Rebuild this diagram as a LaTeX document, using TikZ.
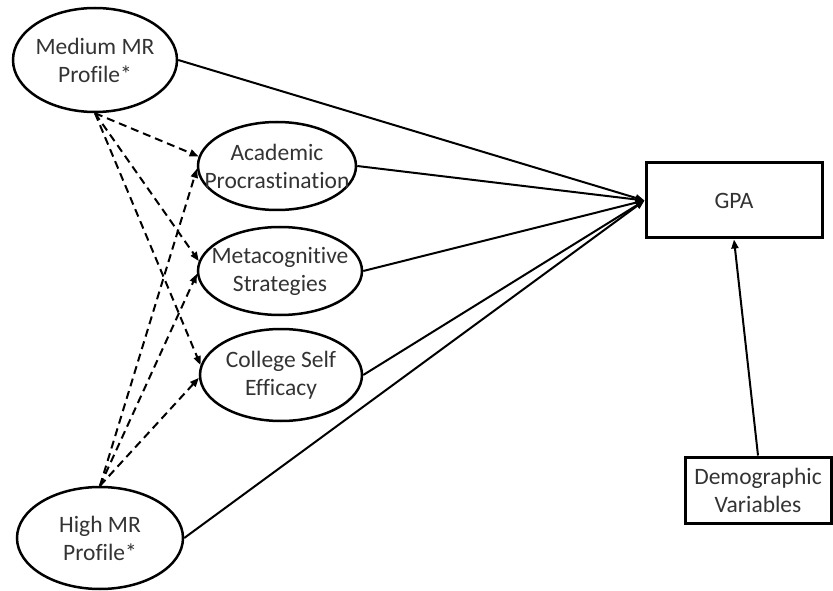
\documentclass[tikz,border=0pt]{standalone}
\usepackage{fontspec}
\setmainfont{Carlito}[Ligatures=NoCommon]
\usetikzlibrary{shapes.geometric,arrows.meta}

\begin{document}
\begin{tikzpicture}[>={Triangle[length=9pt,width=7pt]}, node distance=104pt]
  \tikzstyle{latent} = [ellipse, draw, line width=2.5pt, inner xsep=-20pt, inner ysep=0pt,
                        align=center, text=black!80, font=\fontsize{23.5}{28}\selectfont]
  \tikzstyle{observed} = [rectangle, draw, line width=3pt, inner sep=0pt, align=center,
                          text=black!80, font=\fontsize{23.5}{28}\selectfont]
  \tikzstyle{effect} = [->, line width=2pt]
  \tikzstyle{indirect} = [->, line width=2pt, dash pattern=on 8pt off 5pt]

\useasboundingbox (-95pt,60pt) rectangle (738pt,-531pt);

\node[latent, minimum width=164pt, minimum height=104pt] (med) {Medium MR\\Profile*};
\node[latent, right of=med, xshift=78pt, yshift=-106pt, minimum width=158pt, minimum height=88pt] (acad) {Academic\\Procrastination};
\node[latent, below of=acad, xshift=3pt, yshift=-1pt, minimum width=164pt, minimum height=88pt] (meta) {Metacognitive\\Strategies};
\node[latent, below of=meta, xshift=1pt, minimum width=162pt, minimum height=92pt] (coll) {College Self\\Efficacy};
\node[latent, below of=coll, xshift=-181pt, yshift=-59pt, minimum width=166pt, minimum height=102pt] (high) {High MR\\Profile*};
\node[observed, right of=acad, xshift=353pt, yshift=-34.5pt, minimum width=176pt, minimum height=75pt] (gpa) {GPA};
\node[observed, below of=gpa, xshift=24pt, yshift=-185.5pt, minimum width=146pt, minimum height=66pt] (demo) {Demographic\\Variables};
\draw[indirect] (med.south) -- (acad.173);
\draw[indirect] (med.south) -- (meta.173);
\draw[indirect] (med.south) -- (coll.173);
\draw[indirect] (high.north) -- (acad.182);
\draw[indirect] (high.north) -- (meta.182);
\draw[indirect] (high.north) -- (coll.182);
\draw[effect] (med.east) -- (gpa.west);
\draw[effect] (acad.east) -- (gpa.west);
\draw[effect] (meta.east) -- (gpa.west);
\draw[effect] (coll.east) -- (gpa.west);
\draw[effect] (high.east) -- (gpa.west);
\draw[effect] (demo.north) -- (gpa.south);
\end{tikzpicture}
\end{document}
